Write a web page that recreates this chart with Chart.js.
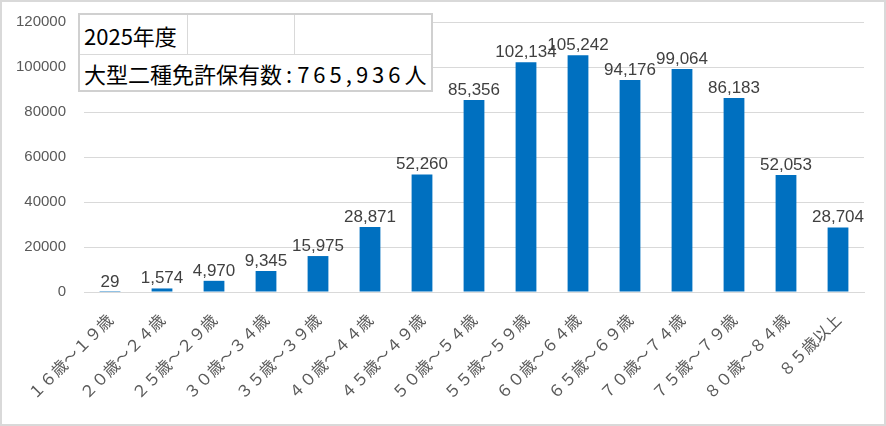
<!DOCTYPE html>
<html>
<head>
<meta charset="utf-8">
<script src="https://cdn.jsdelivr.net/npm/chart.js@4"></script>
<style>
  html, body { margin: 0; padding: 0; background: #fff; }
  #wrap { position: relative; width: 886px; height: 426px; }
  #box {
    position: absolute; left: 78px; top: 13px; width: 355px; height: 79px;
    box-sizing: border-box; border: 2px solid #d0d0d0; background: #fff;
    font-family: "Noto Sans CJK JP", sans-serif; font-size: 22px; color: #000;
  }
  #box .row1 { position: absolute; left: 0; top: 0; right: 0; height: 39px; border-bottom: 1px solid #d9d9d9; }
  #box .row2 { position: absolute; left: 0; top: 40px; right: 0; bottom: 0; }
  #box .vline { position: absolute; top: 0; width: 1px; height: 39px; background: #d9d9d9; }
  #box .txt { position: absolute; left: 4px; top: 0; bottom: 0; display: flex; align-items: center; white-space: nowrap; }
  #box .num { letter-spacing: 4px; }
  #box .colon { padding: 0 5px 0 4px; }
</style>
</head>
<body>
<div id="wrap">
  <canvas id="chart" width="886" height="426"></canvas>
  <div id="box">
    <div class="row1">
      <div class="txt" id="yearText"></div>
      <div class="vline" style="left:107px"></div>
      <div class="vline" style="left:214px"></div>
    </div>
    <div class="row2">
      <div class="txt"><span id="totalLabel"></span><span class="colon">:</span><span class="num" id="totalNum"></span><span>人</span></div>
    </div>
  </div>
</div>
<script>
// データ
const categories = ['１６歳～１９歳', '２０歳～２４歳', '２５歳～２９歳', '３０歳～３４歳', '３５歳～３９歳',
    '４０歳～４４歳', '４５歳～４９歳', '５０歳～５４歳', '５５歳～５９歳', '６０歳～６４歳',
    '６５歳～６９歳', '７０歳～７４歳', '７５歳～７９歳', '８０歳～８４歳', '８５歳以上'];
const holders = [29, 1574, 4970, 9345, 15975, 28871, 52260, 85356, 102134, 105242, 94176, 99064, 86183, 52053, 28704];
const yTicks = [0, 20000, 40000, 60000, 80000, 100000, 120000];
const yearLabel = '2025年度';
const totalLabel = '大型二種免許保有数';

const total = holders.reduce((a, b) => a + b, 0);
document.getElementById('yearText').textContent = yearLabel;
document.getElementById('totalLabel').textContent = totalLabel;
document.getElementById('totalNum').textContent = total.toLocaleString('en-US');

const colors = {
    bar: '#0070C0',
    grid: '#d9d9d9',
    tick: '#595959',
    label: '#404040',
    frame: '#d9d9d9'
};

// 枠線
const framePlugin = {
    id: 'frame',
    beforeDraw(chart) {
        const ctx = chart.ctx;
        ctx.save();
        ctx.fillStyle = '#fff';
        ctx.fillRect(0, 0, chart.width, chart.height);
        ctx.strokeStyle = colors.frame;
        ctx.lineWidth = 2;
        ctx.strokeRect(1, 1, chart.width - 2, chart.height - 2);
        ctx.restore();
    }
};

// データラベル
const valueLabels = {
    id: 'valueLabels',
    afterDatasetsDraw(chart) {
        const ctx = chart.ctx;
        const meta = chart.getDatasetMeta(0);
        ctx.save();
        ctx.font = '17px "Liberation Sans", Arial, sans-serif';
        ctx.fillStyle = colors.label;
        ctx.textAlign = 'center';
        ctx.textBaseline = 'alphabetic';
        meta.data.forEach((bar, i) => {
            ctx.fillText(holders[i].toLocaleString('en-US'), bar.x, bar.y - 5);
        });
        ctx.restore();
    }
};

new Chart(document.getElementById('chart'), {
    type: 'bar',
    data: {
        labels: categories,
        datasets: [{
            data: holders,
            backgroundColor: colors.bar,
            borderWidth: 0,
            barPercentage: 0.4,
            categoryPercentage: 1.0
        }]
    },
    options: {
        responsive: false,
        animation: false,
        devicePixelRatio: 1,
        layout: { padding: { top: 22, right: 22, left: 0, bottom: 0 } },
        plugins: {
            legend: { display: false },
            tooltip: { enabled: false }
        },
        scales: {
            x: {
                grid: { display: false, drawTicks: false },
                border: { display: true, color: colors.grid, width: 1 },
                ticks: {
                    color: colors.tick,
                    font: { family: '"Noto Sans CJK JP", sans-serif', size: 16 },
                    minRotation: 45,
                    maxRotation: 45,
                    autoSkip: false,
                    padding: 18
                },
                afterFit(scale) {
                    scale.height = 134;
                    scale.paddingLeft = 0;
                    scale.paddingRight = 0;
                    scale.paddingTop = 0;
                    scale.paddingBottom = 0;
                }
            },
            y: {
                min: 0,
                max: 120000,
                afterBuildTicks(scale) { scale.ticks = yTicks.map(v => ({ value: v })); },
                grid: { color: colors.grid, drawTicks: false },
                border: { display: false },
                ticks: {
                    color: colors.tick,
                    font: { family: '"Liberation Sans", Arial, sans-serif', size: 15 },
                    padding: 18,
                    callback: v => String(v)
                },
                afterFit(scale) {
                    scale.width = 84;
                    scale.paddingTop = 0;
                    scale.paddingBottom = 0;
                }
            }
        }
    },
    plugins: [framePlugin, valueLabels]
});
</script>
</body>
</html>
